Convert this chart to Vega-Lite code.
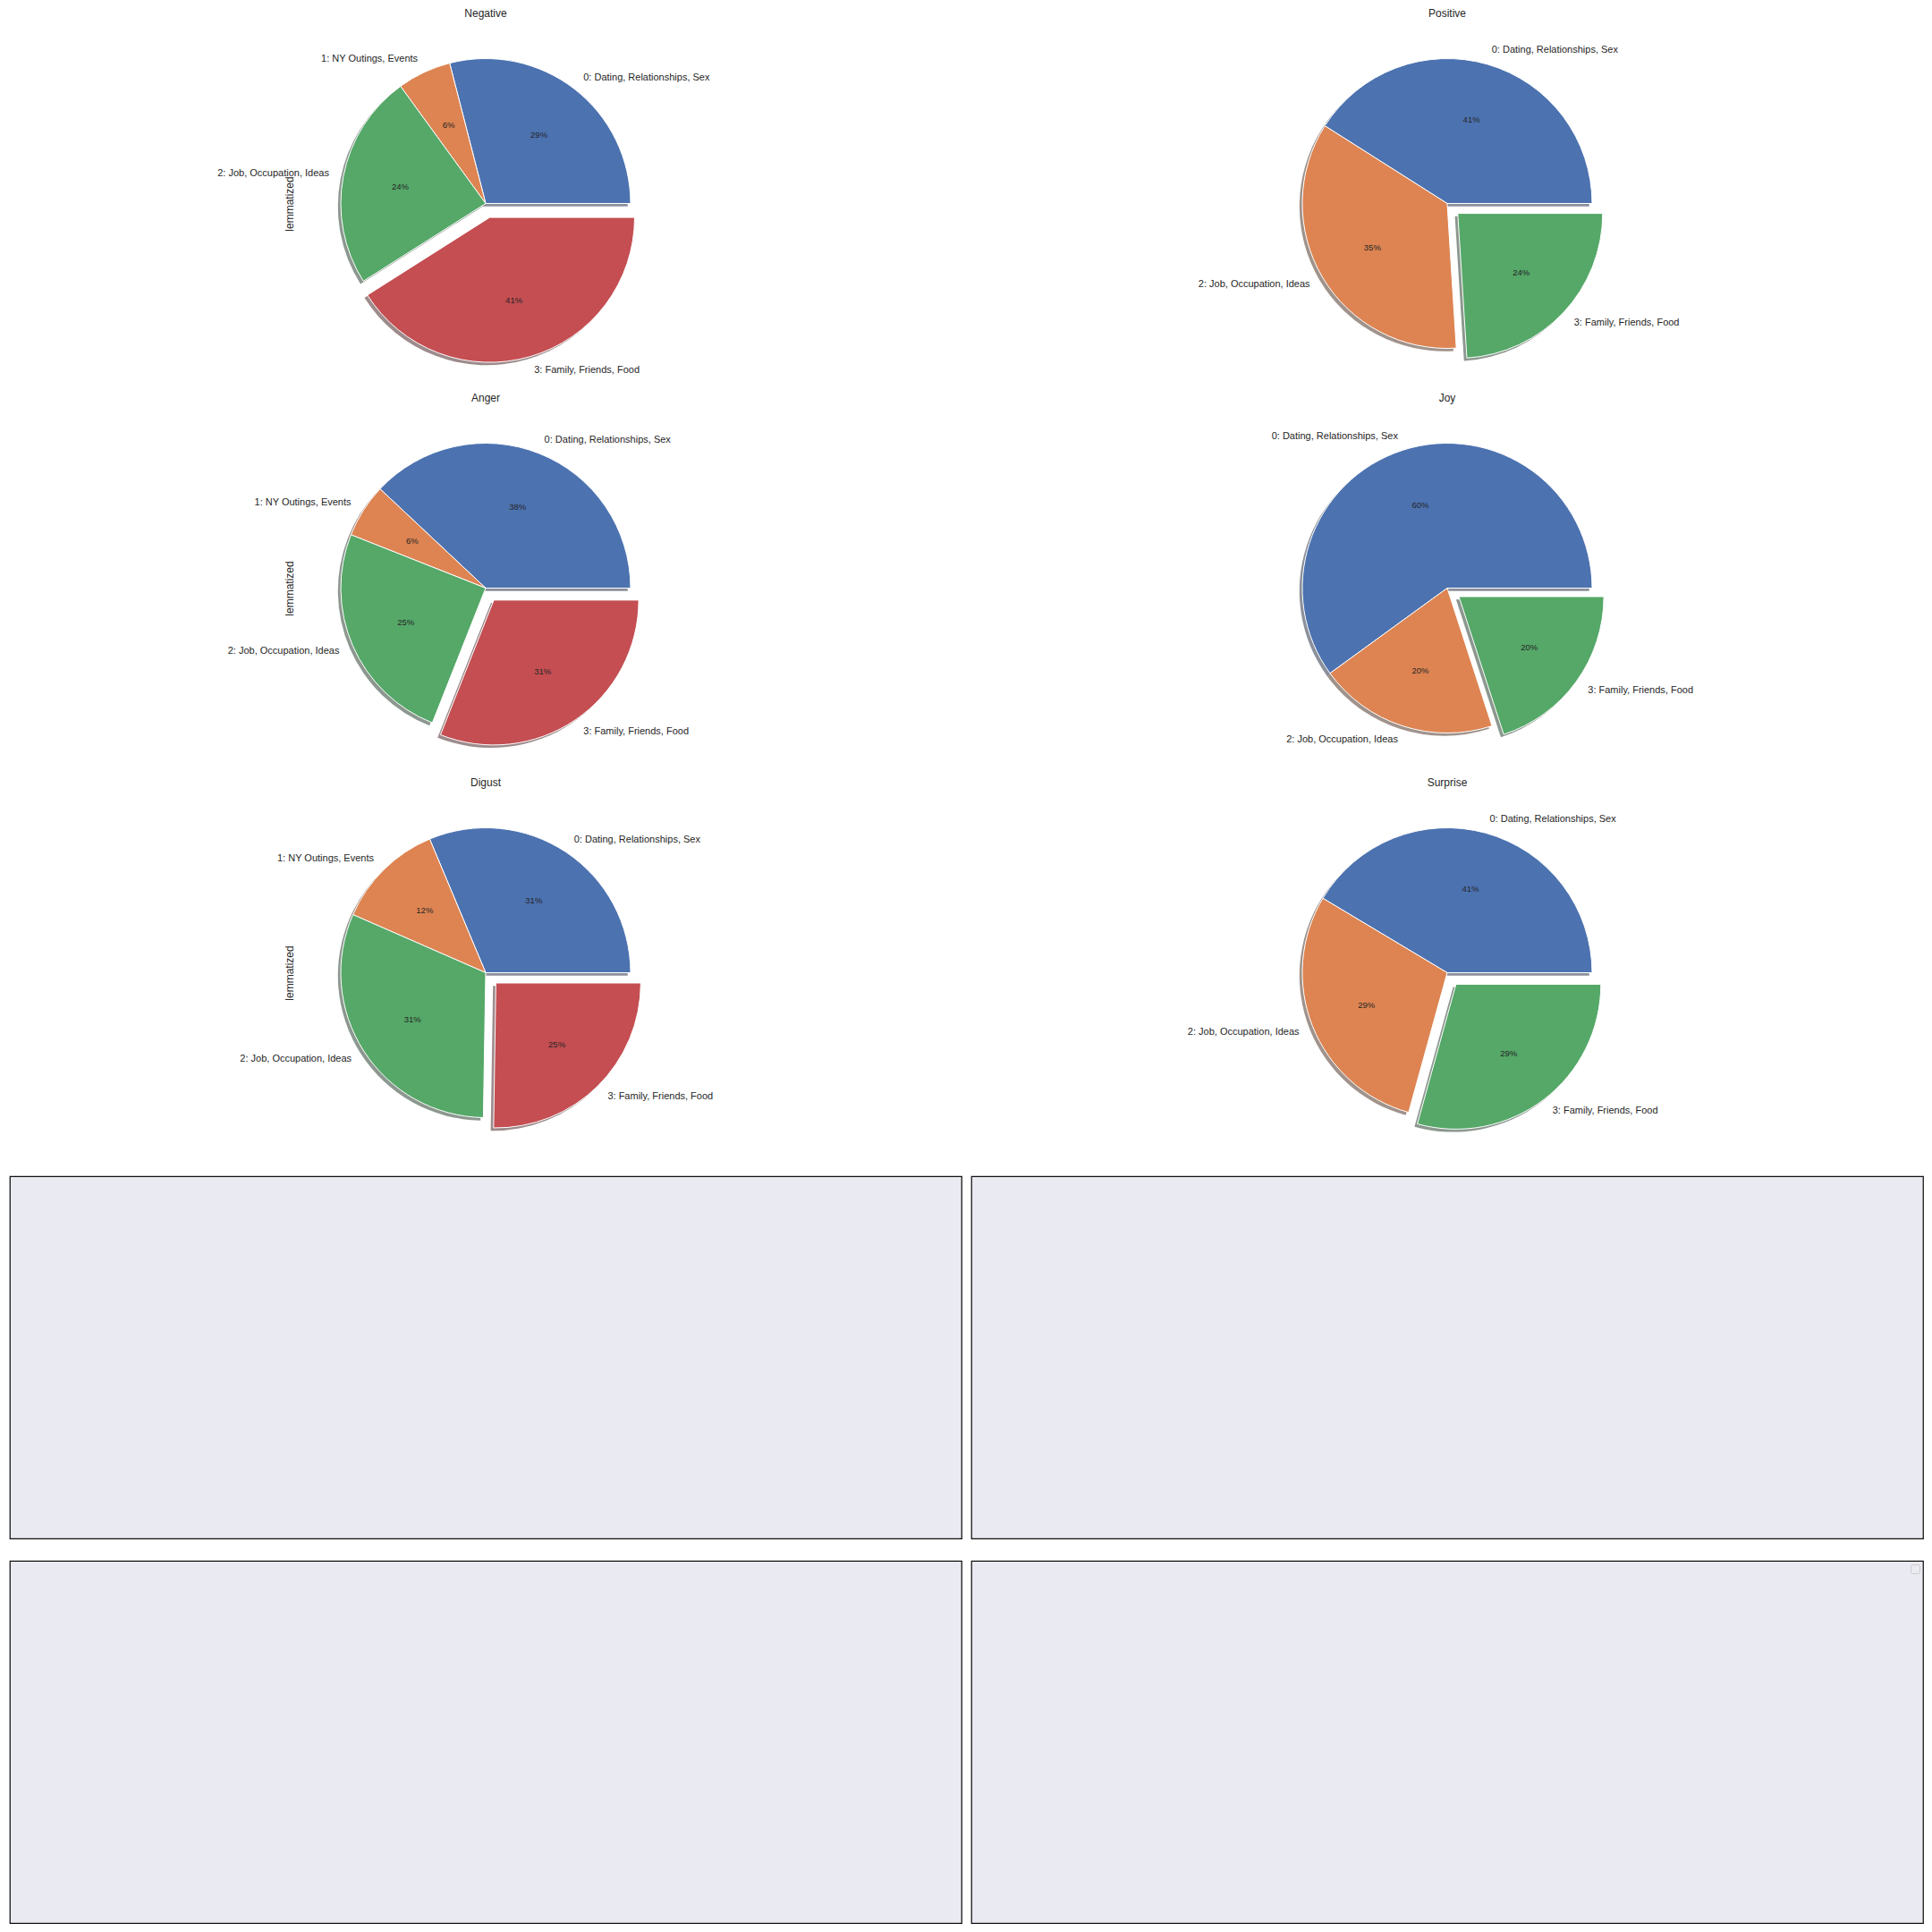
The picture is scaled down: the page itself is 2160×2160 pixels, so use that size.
{
  "$schema": "https://vega.github.io/schema/vega-lite/v6.json",
  "background": "#ffffff",
  "padding": {"left": 10, "top": 9, "right": 10, "bottom": 10},
  "columns": 2,
  "spacing": {"row": 25, "column": 11},
  "bounds": "flush",
  "resolve": {"scale": {"color": "independent", "fill": "independent", "theta": "independent", "y": "independent"}, "legend": {"color": "independent", "fill": "independent"}},
  "config": {
    "font": "Liberation Sans",
    "view": {"stroke": null},
    "title": {"font": "Liberation Sans", "fontSize": 12, "fontWeight": "normal", "color": "#262626", "baseline": "alphabetic", "offset": 3, "anchor": "middle", "frame": "group"},
    "text": {"font": "Liberation Sans", "color": "#262626"}
  },
  "concat": [
    {
      "width": 1064, "height": 405,
      "title": {"text": "Negative", "offset": 0},
      "data": {"values": [
        {"topic": "0: Dating, Relationships, Sex", "share": 0.29},
        {"topic": "1: NY Outings, Events", "share": 0.06},
        {"topic": "2: Job, Occupation, Ideas", "share": 0.24},
        {"topic": "3: Family, Friends, Food", "share": 0.41}
      ]},
      "layer": [
        {"mark": {"type": "arc", "radius": 162, "fillOpacity": 0.5,
          "xOffset": {"expr": "datum.topic == '3: Family, Friends, Food' ? 1.3 : -3.2"},
          "yOffset": {"expr": "datum.topic == '3: Family, Friends, Food' ? 18.8 : 3.2"}},
         "encoding": {
          "theta": {"field": "share", "type": "quantitative", "stack": "normalize", "scale": {"domain": [0, 1], "range": [1.5707963, -4.712389]}},
          "order": {"field": "topic", "type": "ordinal", "sort": "ascending"},
          "fill": {"field": "topic", "type": "nominal", "legend": null, "scale": {"domain": ["0: Dating, Relationships, Sex", "1: NY Outings, Events", "2: Job, Occupation, Ideas", "3: Family, Friends, Food"], "range": ["#172235", "#422819", "#1A321F", "#3B1719"]}}}},
        {"mark": {"type": "arc", "radius": 162, "stroke": "#ffffff", "strokeWidth": 1,
          "xOffset": {"expr": "datum.topic == '3: Family, Friends, Food' ? 4.5 : 0"},
          "yOffset": {"expr": "datum.topic == '3: Family, Friends, Food' ? 15.6 : 0"}},
         "encoding": {
          "theta": {"field": "share", "type": "quantitative", "stack": "normalize", "scale": {"domain": [0, 1], "range": [1.5707963, -4.712389]}},
          "order": {"field": "topic", "type": "ordinal", "sort": "ascending"},
          "color": {"field": "topic", "type": "nominal", "legend": null, "scale": {"domain": ["0: Dating, Relationships, Sex", "1: NY Outings, Events", "2: Job, Occupation, Ideas", "3: Family, Friends, Food"], "range": ["#4C72B0", "#DD8452", "#55A868", "#C44E52"]}}}},
        {"mark": {"type": "text", "radius": 178.2, "fontSize": 11, "baseline": "middle",
          "align": {"expr": "(datum.share_start + datum.share_end) / 2 < 0.25 || (datum.share_start + datum.share_end) / 2 > 0.75 ? 'left' : 'right'"},
          "xOffset": {"expr": "datum.topic == '3: Family, Friends, Food' ? 4.5 : 0"},
          "yOffset": {"expr": "datum.topic == '3: Family, Friends, Food' ? 15.6 : 0"}},
         "encoding": {
          "theta": {"field": "share", "type": "quantitative", "stack": "normalize", "scale": {"domain": [0, 1], "range": [1.5707963, -4.712389]}},
          "order": {"field": "topic", "type": "ordinal", "sort": "ascending"},
          "text": {"field": "topic", "type": "nominal"}}},
        {"mark": {"type": "text", "radius": 97.2, "fontSize": 9.5, "align": "center", "baseline": "middle",
          "xOffset": {"expr": "datum.topic == '3: Family, Friends, Food' ? 4.5 : 0"},
          "yOffset": {"expr": "datum.topic == '3: Family, Friends, Food' ? 15.6 : 0"}},
         "encoding": {
          "theta": {"field": "share", "type": "quantitative", "stack": "normalize", "scale": {"domain": [0, 1], "range": [1.5707963, -4.712389]}},
          "order": {"field": "topic", "type": "ordinal", "sort": "ascending"},
          "text": {"field": "share", "type": "quantitative", "format": ".0%"}}},
        {"mark": {"type": "point", "opacity": 0},
         "encoding": {"y": {"datum": 0, "type": "quantitative", "axis": {"title": "lemmatized", "offset": -316, "titlePadding": 0, "minExtent": 0, "maxExtent": 0, "labels": false, "ticks": false, "domain": false, "grid": false, "titleFont": "Liberation Sans", "titleFontSize": 12, "titleFontWeight": "normal", "titleColor": "#262626", "titleBaseline": "alphabetic"}}}}
      ]
    },
    {
      "width": 1064, "height": 405,
      "title": {"text": "Positive"},
      "data": {"values": [
        {"topic": "0: Dating, Relationships, Sex", "share": 0.41},
        {"topic": "2: Job, Occupation, Ideas", "share": 0.35},
        {"topic": "3: Family, Friends, Food", "share": 0.24}
      ]},
      "layer": [
        {"mark": {"type": "arc", "radius": 162, "fillOpacity": 0.5,
          "xOffset": {"expr": "datum.topic == '3: Family, Friends, Food' ? 8.6 : -3.2"},
          "yOffset": {"expr": "datum.topic == '3: Family, Friends, Food' ? 14.3 : 3.2"}},
         "encoding": {
          "theta": {"field": "share", "type": "quantitative", "stack": "normalize", "scale": {"domain": [0, 1], "range": [1.5707963, -4.712389]}},
          "order": {"field": "topic", "type": "ordinal", "sort": "ascending"},
          "fill": {"field": "topic", "type": "nominal", "legend": null, "scale": {"domain": ["0: Dating, Relationships, Sex", "2: Job, Occupation, Ideas", "3: Family, Friends, Food"], "range": ["#172235", "#422819", "#1A321F"]}}}},
        {"mark": {"type": "arc", "radius": 162, "stroke": "#ffffff", "strokeWidth": 1,
          "xOffset": {"expr": "datum.topic == '3: Family, Friends, Food' ? 11.8 : 0"},
          "yOffset": {"expr": "datum.topic == '3: Family, Friends, Food' ? 11.1 : 0"}},
         "encoding": {
          "theta": {"field": "share", "type": "quantitative", "stack": "normalize", "scale": {"domain": [0, 1], "range": [1.5707963, -4.712389]}},
          "order": {"field": "topic", "type": "ordinal", "sort": "ascending"},
          "color": {"field": "topic", "type": "nominal", "legend": null, "scale": {"domain": ["0: Dating, Relationships, Sex", "2: Job, Occupation, Ideas", "3: Family, Friends, Food"], "range": ["#4C72B0", "#DD8452", "#55A868"]}}}},
        {"mark": {"type": "text", "radius": 178.2, "fontSize": 11, "baseline": "middle",
          "align": {"expr": "(datum.share_start + datum.share_end) / 2 < 0.25 || (datum.share_start + datum.share_end) / 2 > 0.75 ? 'left' : 'right'"},
          "xOffset": {"expr": "datum.topic == '3: Family, Friends, Food' ? 11.8 : 0"},
          "yOffset": {"expr": "datum.topic == '3: Family, Friends, Food' ? 11.1 : 0"}},
         "encoding": {
          "theta": {"field": "share", "type": "quantitative", "stack": "normalize", "scale": {"domain": [0, 1], "range": [1.5707963, -4.712389]}},
          "order": {"field": "topic", "type": "ordinal", "sort": "ascending"},
          "text": {"field": "topic", "type": "nominal"}}},
        {"mark": {"type": "text", "radius": 97.2, "fontSize": 9.5, "align": "center", "baseline": "middle",
          "xOffset": {"expr": "datum.topic == '3: Family, Friends, Food' ? 11.8 : 0"},
          "yOffset": {"expr": "datum.topic == '3: Family, Friends, Food' ? 11.1 : 0"}},
         "encoding": {
          "theta": {"field": "share", "type": "quantitative", "stack": "normalize", "scale": {"domain": [0, 1], "range": [1.5707963, -4.712389]}},
          "order": {"field": "topic", "type": "ordinal", "sort": "ascending"},
          "text": {"field": "share", "type": "quantitative", "format": ".0%"}}}
      ]
    },
    {
      "width": 1064, "height": 405,
      "title": {"text": "Anger", "offset": 0},
      "data": {"values": [
        {"topic": "0: Dating, Relationships, Sex", "share": 0.38},
        {"topic": "1: NY Outings, Events", "share": 0.06},
        {"topic": "2: Job, Occupation, Ideas", "share": 0.25},
        {"topic": "3: Family, Friends, Food", "share": 0.31}
      ]},
      "layer": [
        {"mark": {"type": "arc", "radius": 162, "fillOpacity": 0.5,
          "xOffset": {"expr": "datum.topic == '3: Family, Friends, Food' ? 5.9 : -3.2"},
          "yOffset": {"expr": "datum.topic == '3: Family, Friends, Food' ? 16.6 : 3.2"}},
         "encoding": {
          "theta": {"field": "share", "type": "quantitative", "stack": "normalize", "scale": {"domain": [0, 1], "range": [1.5707963, -4.712389]}},
          "order": {"field": "topic", "type": "ordinal", "sort": "ascending"},
          "fill": {"field": "topic", "type": "nominal", "legend": null, "scale": {"domain": ["0: Dating, Relationships, Sex", "1: NY Outings, Events", "2: Job, Occupation, Ideas", "3: Family, Friends, Food"], "range": ["#172235", "#422819", "#1A321F", "#3B1719"]}}}},
        {"mark": {"type": "arc", "radius": 162, "stroke": "#ffffff", "strokeWidth": 1,
          "xOffset": {"expr": "datum.topic == '3: Family, Friends, Food' ? 9.1 : 0"},
          "yOffset": {"expr": "datum.topic == '3: Family, Friends, Food' ? 13.4 : 0"}},
         "encoding": {
          "theta": {"field": "share", "type": "quantitative", "stack": "normalize", "scale": {"domain": [0, 1], "range": [1.5707963, -4.712389]}},
          "order": {"field": "topic", "type": "ordinal", "sort": "ascending"},
          "color": {"field": "topic", "type": "nominal", "legend": null, "scale": {"domain": ["0: Dating, Relationships, Sex", "1: NY Outings, Events", "2: Job, Occupation, Ideas", "3: Family, Friends, Food"], "range": ["#4C72B0", "#DD8452", "#55A868", "#C44E52"]}}}},
        {"mark": {"type": "text", "radius": 178.2, "fontSize": 11, "baseline": "middle",
          "align": {"expr": "(datum.share_start + datum.share_end) / 2 < 0.25 || (datum.share_start + datum.share_end) / 2 > 0.75 ? 'left' : 'right'"},
          "xOffset": {"expr": "datum.topic == '3: Family, Friends, Food' ? 9.1 : 0"},
          "yOffset": {"expr": "datum.topic == '3: Family, Friends, Food' ? 13.4 : 0"}},
         "encoding": {
          "theta": {"field": "share", "type": "quantitative", "stack": "normalize", "scale": {"domain": [0, 1], "range": [1.5707963, -4.712389]}},
          "order": {"field": "topic", "type": "ordinal", "sort": "ascending"},
          "text": {"field": "topic", "type": "nominal"}}},
        {"mark": {"type": "text", "radius": 97.2, "fontSize": 9.5, "align": "center", "baseline": "middle",
          "xOffset": {"expr": "datum.topic == '3: Family, Friends, Food' ? 9.1 : 0"},
          "yOffset": {"expr": "datum.topic == '3: Family, Friends, Food' ? 13.4 : 0"}},
         "encoding": {
          "theta": {"field": "share", "type": "quantitative", "stack": "normalize", "scale": {"domain": [0, 1], "range": [1.5707963, -4.712389]}},
          "order": {"field": "topic", "type": "ordinal", "sort": "ascending"},
          "text": {"field": "share", "type": "quantitative", "format": ".0%"}}},
        {"mark": {"type": "point", "opacity": 0},
         "encoding": {"y": {"datum": 0, "type": "quantitative", "axis": {"title": "lemmatized", "offset": -316, "titlePadding": 0, "minExtent": 0, "maxExtent": 0, "labels": false, "ticks": false, "domain": false, "grid": false, "titleFont": "Liberation Sans", "titleFontSize": 12, "titleFontWeight": "normal", "titleColor": "#262626", "titleBaseline": "alphabetic"}}}}
      ]
    },
    {
      "width": 1064, "height": 405,
      "title": {"text": "Joy"},
      "data": {"values": [
        {"topic": "0: Dating, Relationships, Sex", "share": 0.60},
        {"topic": "2: Job, Occupation, Ideas", "share": 0.20},
        {"topic": "3: Family, Friends, Food", "share": 0.20}
      ]},
      "layer": [
        {"mark": {"type": "arc", "radius": 162, "fillOpacity": 0.5,
          "xOffset": {"expr": "datum.topic == '3: Family, Friends, Food' ? 9.9 : -3.2"},
          "yOffset": {"expr": "datum.topic == '3: Family, Friends, Food' ? 12.7 : 3.2"}},
         "encoding": {
          "theta": {"field": "share", "type": "quantitative", "stack": "normalize", "scale": {"domain": [0, 1], "range": [1.5707963, -4.712389]}},
          "order": {"field": "topic", "type": "ordinal", "sort": "ascending"},
          "fill": {"field": "topic", "type": "nominal", "legend": null, "scale": {"domain": ["0: Dating, Relationships, Sex", "2: Job, Occupation, Ideas", "3: Family, Friends, Food"], "range": ["#172235", "#422819", "#1A321F"]}}}},
        {"mark": {"type": "arc", "radius": 162, "stroke": "#ffffff", "strokeWidth": 1,
          "xOffset": {"expr": "datum.topic == '3: Family, Friends, Food' ? 13.1 : 0"},
          "yOffset": {"expr": "datum.topic == '3: Family, Friends, Food' ? 9.5 : 0"}},
         "encoding": {
          "theta": {"field": "share", "type": "quantitative", "stack": "normalize", "scale": {"domain": [0, 1], "range": [1.5707963, -4.712389]}},
          "order": {"field": "topic", "type": "ordinal", "sort": "ascending"},
          "color": {"field": "topic", "type": "nominal", "legend": null, "scale": {"domain": ["0: Dating, Relationships, Sex", "2: Job, Occupation, Ideas", "3: Family, Friends, Food"], "range": ["#4C72B0", "#DD8452", "#55A868"]}}}},
        {"mark": {"type": "text", "radius": 178.2, "fontSize": 11, "baseline": "middle",
          "align": {"expr": "(datum.share_start + datum.share_end) / 2 < 0.25 || (datum.share_start + datum.share_end) / 2 > 0.75 ? 'left' : 'right'"},
          "xOffset": {"expr": "datum.topic == '3: Family, Friends, Food' ? 13.1 : 0"},
          "yOffset": {"expr": "datum.topic == '3: Family, Friends, Food' ? 9.5 : 0"}},
         "encoding": {
          "theta": {"field": "share", "type": "quantitative", "stack": "normalize", "scale": {"domain": [0, 1], "range": [1.5707963, -4.712389]}},
          "order": {"field": "topic", "type": "ordinal", "sort": "ascending"},
          "text": {"field": "topic", "type": "nominal"}}},
        {"mark": {"type": "text", "radius": 97.2, "fontSize": 9.5, "align": "center", "baseline": "middle",
          "xOffset": {"expr": "datum.topic == '3: Family, Friends, Food' ? 13.1 : 0"},
          "yOffset": {"expr": "datum.topic == '3: Family, Friends, Food' ? 9.5 : 0"}},
         "encoding": {
          "theta": {"field": "share", "type": "quantitative", "stack": "normalize", "scale": {"domain": [0, 1], "range": [1.5707963, -4.712389]}},
          "order": {"field": "topic", "type": "ordinal", "sort": "ascending"},
          "text": {"field": "share", "type": "quantitative", "format": ".0%"}}}
      ]
    },
    {
      "width": 1064, "height": 405,
      "title": {"text": "Digust", "offset": 0},
      "data": {"values": [
        {"topic": "0: Dating, Relationships, Sex", "share": 0.31},
        {"topic": "1: NY Outings, Events", "share": 0.12},
        {"topic": "2: Job, Occupation, Ideas", "share": 0.31},
        {"topic": "3: Family, Friends, Food", "share": 0.25}
      ]},
      "layer": [
        {"mark": {"type": "arc", "radius": 162, "fillOpacity": 0.5,
          "xOffset": {"expr": "datum.topic == '3: Family, Friends, Food' ? 8.2 : -3.2"},
          "yOffset": {"expr": "datum.topic == '3: Family, Friends, Food' ? 14.7 : 3.2"}},
         "encoding": {
          "theta": {"field": "share", "type": "quantitative", "stack": "normalize", "scale": {"domain": [0, 1], "range": [1.5707963, -4.712389]}},
          "order": {"field": "topic", "type": "ordinal", "sort": "ascending"},
          "fill": {"field": "topic", "type": "nominal", "legend": null, "scale": {"domain": ["0: Dating, Relationships, Sex", "1: NY Outings, Events", "2: Job, Occupation, Ideas", "3: Family, Friends, Food"], "range": ["#172235", "#422819", "#1A321F", "#3B1719"]}}}},
        {"mark": {"type": "arc", "radius": 162, "stroke": "#ffffff", "strokeWidth": 1,
          "xOffset": {"expr": "datum.topic == '3: Family, Friends, Food' ? 11.4 : 0"},
          "yOffset": {"expr": "datum.topic == '3: Family, Friends, Food' ? 11.5 : 0"}},
         "encoding": {
          "theta": {"field": "share", "type": "quantitative", "stack": "normalize", "scale": {"domain": [0, 1], "range": [1.5707963, -4.712389]}},
          "order": {"field": "topic", "type": "ordinal", "sort": "ascending"},
          "color": {"field": "topic", "type": "nominal", "legend": null, "scale": {"domain": ["0: Dating, Relationships, Sex", "1: NY Outings, Events", "2: Job, Occupation, Ideas", "3: Family, Friends, Food"], "range": ["#4C72B0", "#DD8452", "#55A868", "#C44E52"]}}}},
        {"mark": {"type": "text", "radius": 178.2, "fontSize": 11, "baseline": "middle",
          "align": {"expr": "(datum.share_start + datum.share_end) / 2 < 0.25 || (datum.share_start + datum.share_end) / 2 > 0.75 ? 'left' : 'right'"},
          "xOffset": {"expr": "datum.topic == '3: Family, Friends, Food' ? 11.4 : 0"},
          "yOffset": {"expr": "datum.topic == '3: Family, Friends, Food' ? 11.5 : 0"}},
         "encoding": {
          "theta": {"field": "share", "type": "quantitative", "stack": "normalize", "scale": {"domain": [0, 1], "range": [1.5707963, -4.712389]}},
          "order": {"field": "topic", "type": "ordinal", "sort": "ascending"},
          "text": {"field": "topic", "type": "nominal"}}},
        {"mark": {"type": "text", "radius": 97.2, "fontSize": 9.5, "align": "center", "baseline": "middle",
          "xOffset": {"expr": "datum.topic == '3: Family, Friends, Food' ? 11.4 : 0"},
          "yOffset": {"expr": "datum.topic == '3: Family, Friends, Food' ? 11.5 : 0"}},
         "encoding": {
          "theta": {"field": "share", "type": "quantitative", "stack": "normalize", "scale": {"domain": [0, 1], "range": [1.5707963, -4.712389]}},
          "order": {"field": "topic", "type": "ordinal", "sort": "ascending"},
          "text": {"field": "share", "type": "quantitative", "format": ".0%"}}},
        {"mark": {"type": "point", "opacity": 0},
         "encoding": {"y": {"datum": 0, "type": "quantitative", "axis": {"title": "lemmatized", "offset": -316, "titlePadding": 0, "minExtent": 0, "maxExtent": 0, "labels": false, "ticks": false, "domain": false, "grid": false, "titleFont": "Liberation Sans", "titleFontSize": 12, "titleFontWeight": "normal", "titleColor": "#262626", "titleBaseline": "alphabetic"}}}}
      ]
    },
    {
      "width": 1064, "height": 405,
      "title": {"text": "Surprise"},
      "data": {"values": [
        {"topic": "0: Dating, Relationships, Sex", "share": 0.41},
        {"topic": "2: Job, Occupation, Ideas", "share": 0.29},
        {"topic": "3: Family, Friends, Food", "share": 0.29}
      ]},
      "layer": [
        {"mark": {"type": "arc", "radius": 162, "fillOpacity": 0.5,
          "xOffset": {"expr": "datum.topic == '3: Family, Friends, Food' ? 6.6 : -3.2"},
          "yOffset": {"expr": "datum.topic == '3: Family, Friends, Food' ? 16.1 : 3.2"}},
         "encoding": {
          "theta": {"field": "share", "type": "quantitative", "stack": "normalize", "scale": {"domain": [0, 1], "range": [1.5707963, -4.712389]}},
          "order": {"field": "topic", "type": "ordinal", "sort": "ascending"},
          "fill": {"field": "topic", "type": "nominal", "legend": null, "scale": {"domain": ["0: Dating, Relationships, Sex", "2: Job, Occupation, Ideas", "3: Family, Friends, Food"], "range": ["#172235", "#422819", "#1A321F"]}}}},
        {"mark": {"type": "arc", "radius": 162, "stroke": "#ffffff", "strokeWidth": 1,
          "xOffset": {"expr": "datum.topic == '3: Family, Friends, Food' ? 9.8 : 0"},
          "yOffset": {"expr": "datum.topic == '3: Family, Friends, Food' ? 12.9 : 0"}},
         "encoding": {
          "theta": {"field": "share", "type": "quantitative", "stack": "normalize", "scale": {"domain": [0, 1], "range": [1.5707963, -4.712389]}},
          "order": {"field": "topic", "type": "ordinal", "sort": "ascending"},
          "color": {"field": "topic", "type": "nominal", "legend": null, "scale": {"domain": ["0: Dating, Relationships, Sex", "2: Job, Occupation, Ideas", "3: Family, Friends, Food"], "range": ["#4C72B0", "#DD8452", "#55A868"]}}}},
        {"mark": {"type": "text", "radius": 178.2, "fontSize": 11, "baseline": "middle",
          "align": {"expr": "(datum.share_start + datum.share_end) / 2 < 0.25 || (datum.share_start + datum.share_end) / 2 > 0.75 ? 'left' : 'right'"},
          "xOffset": {"expr": "datum.topic == '3: Family, Friends, Food' ? 9.8 : 0"},
          "yOffset": {"expr": "datum.topic == '3: Family, Friends, Food' ? 12.9 : 0"}},
         "encoding": {
          "theta": {"field": "share", "type": "quantitative", "stack": "normalize", "scale": {"domain": [0, 1], "range": [1.5707963, -4.712389]}},
          "order": {"field": "topic", "type": "ordinal", "sort": "ascending"},
          "text": {"field": "topic", "type": "nominal"}}},
        {"mark": {"type": "text", "radius": 97.2, "fontSize": 9.5, "align": "center", "baseline": "middle",
          "xOffset": {"expr": "datum.topic == '3: Family, Friends, Food' ? 9.8 : 0"},
          "yOffset": {"expr": "datum.topic == '3: Family, Friends, Food' ? 12.9 : 0"}},
         "encoding": {
          "theta": {"field": "share", "type": "quantitative", "stack": "normalize", "scale": {"domain": [0, 1], "range": [1.5707963, -4.712389]}},
          "order": {"field": "topic", "type": "ordinal", "sort": "ascending"},
          "text": {"field": "share", "type": "quantitative", "format": ".0%"}}}
      ]
    },
    {
      "width": 1064, "height": 405,
      "view": {"fill": "#EAEAF2", "stroke": "#111111", "strokeWidth": 1.25},
      "data": {"values": []},
      "mark": {"type": "point", "opacity": 0},
      "encoding": {}
    },
    {
      "width": 1064, "height": 405,
      "view": {"fill": "#EAEAF2", "stroke": "#111111", "strokeWidth": 1.25},
      "data": {"values": []},
      "mark": {"type": "point", "opacity": 0},
      "encoding": {}
    },
    {
      "width": 1064, "height": 405,
      "view": {"fill": "#EAEAF2", "stroke": "#111111", "strokeWidth": 1.25},
      "data": {"values": []},
      "mark": {"type": "point", "opacity": 0},
      "encoding": {}
    },
    {
      "width": 1064, "height": 405,
      "view": {"fill": "#EAEAF2", "stroke": "#111111", "strokeWidth": 1.25},
      "data": {"values": []},
      "mark": {"type": "point", "opacity": 0},
      "encoding": {
        "color": {"field": "series", "type": "nominal", "legend": {"title": null, "orient": "top-right", "offset": 4, "padding": 5, "fillColor": "#EAEAF2", "strokeColor": "#cccccc", "cornerRadius": 2}}
      }
    }
  ]
}
